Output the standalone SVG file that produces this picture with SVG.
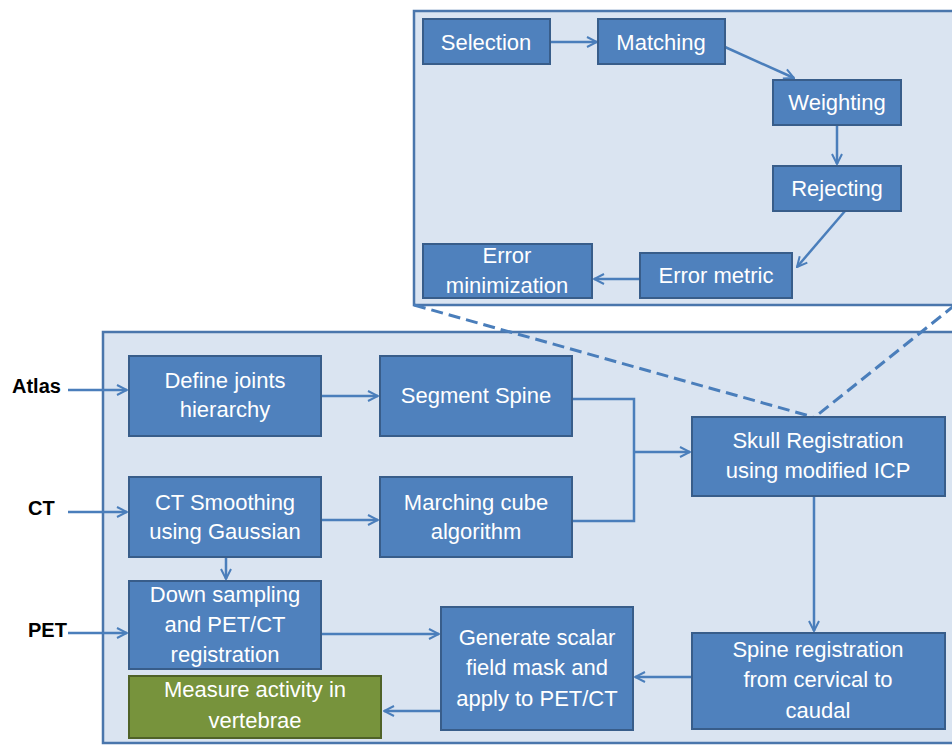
<svg xmlns="http://www.w3.org/2000/svg" width="952" height="745" viewBox="0 0 952 745">
<defs>
<marker id="arr" viewBox="0 0 12 12" refX="11" refY="6" markerWidth="12" markerHeight="12" markerUnits="userSpaceOnUse" orient="auto">
<path d="M1,1 L11,6 L1,11" fill="none" stroke="#4A7EBB" stroke-width="2"/>
</marker>
<style>
.panel{fill:#DAE4F1;stroke:#4A76AC;stroke-width:2.5}
.box{fill:#4F81BD;stroke:#385D8A;stroke-width:2}
.green{fill:#77933C;stroke:#4F6228;stroke-width:2}
.t{font-family:"Liberation Sans",Arial,sans-serif;font-size:22px;fill:#FFFFFF;text-anchor:middle}
.lbl{font-family:"Liberation Sans",Arial,sans-serif;font-size:20px;font-weight:bold;fill:#000000}
.c{fill:none;stroke:#4A7EBB;stroke-width:2.5}
.dash{fill:none;stroke:#4A7EBB;stroke-width:3;stroke-dasharray:12 6}
</style>
</defs>
<rect width="952" height="745" fill="#FFFFFF"/>
<g id="panel-top"><rect class="panel" x="414" y="11" width="545" height="294"/></g>
<g id="panel-bottom"><rect class="panel" x="103" y="332" width="856" height="411"/></g>

<g id="connectors">
<path class="dash" d="M414,305 L813,417"/>
<path class="dash" d="M955,305 L815,417"/>
<path class="c" d="M550,42 L597,42" marker-end="url(#arr)"/>
<path class="c" d="M725,47 L794,78" marker-end="url(#arr)"/>
<path class="c" d="M837,125 L837,164" marker-end="url(#arr)"/>
<path class="c" d="M845,211 L797,267" marker-end="url(#arr)"/>
<path class="c" d="M640,279 L594,279" marker-end="url(#arr)"/>
<path class="c" d="M68,390 L127,390" marker-end="url(#arr)"/>
<path class="c" d="M68,512 L127,512" marker-end="url(#arr)"/>
<path class="c" d="M68,633 L127,633" marker-end="url(#arr)"/>
<path class="c" d="M321,396 L378,396" marker-end="url(#arr)"/>
<path class="c" d="M321,520 L378,520" marker-end="url(#arr)"/>
<path class="c" d="M226,557 L226,579" marker-end="url(#arr)"/>
<path class="c" d="M572,399 L634,399 L634,521 L572,521"/>
<path class="c" d="M634,452 L690,452" marker-end="url(#arr)"/>
<path class="c" d="M814,496 L814,631" marker-end="url(#arr)"/>
<path class="c" d="M692,677 L635,677" marker-end="url(#arr)"/>
<path class="c" d="M321,634 L439,634" marker-end="url(#arr)"/>
<path class="c" d="M441,711 L384,711" marker-end="url(#arr)"/>
</g>

<g id="selection"><rect class="box" x="423" y="19" width="127" height="45"/><text class="t" x="486" y="50">Selection</text></g>
<g id="matching"><rect class="box" x="598" y="19" width="127" height="45"/><text class="t" x="661" y="50">Matching</text></g>
<g id="weighting"><rect class="box" x="773" y="80" width="128" height="45"/><text class="t" x="837" y="110">Weighting</text></g>
<g id="rejecting"><rect class="box" x="773" y="166" width="128" height="45"/><text class="t" x="837" y="196">Rejecting</text></g>
<g id="error-metric"><rect class="box" x="640" y="253" width="152" height="45"/><text class="t" x="716" y="283">Error metric</text></g>
<g id="error-min"><rect class="box" x="423" y="244" width="169" height="54"/><text class="t" x="507" y="263">Error</text><text class="t" x="507" y="293">minimization</text></g>

<g id="atlas"><text class="lbl" x="12" y="393">Atlas</text></g>
<g id="ct"><text class="lbl" x="28" y="515">CT</text></g>
<g id="pet"><text class="lbl" x="28" y="637">PET</text></g>

<g id="define-joints"><rect class="box" x="129" y="356" width="192" height="80"/><text class="t" x="225" y="388">Define  joints</text><text class="t" x="225" y="417">hierarchy</text></g>
<g id="segment-spine"><rect class="box" x="380" y="356" width="192" height="80"/><text class="t" x="476" y="403">Segment Spine</text></g>
<g id="ct-smoothing"><rect class="box" x="129" y="477" width="192" height="80"/><text class="t" x="225" y="510">CT Smoothing</text><text class="t" x="225" y="539">using Gaussian</text></g>
<g id="marching-cube"><rect class="box" x="380" y="477" width="192" height="80"/><text class="t" x="476" y="510">Marching cube</text><text class="t" x="476" y="539">algorithm</text></g>
<g id="down-sampling"><rect class="box" x="129" y="581" width="192" height="88"/><text class="t" x="225" y="602">Down sampling</text><text class="t" x="225" y="632">and PET/CT</text><text class="t" x="225" y="662">registration</text></g>
<g id="measure-activity"><rect class="green" x="129" y="676" width="252" height="62"/><text class="t" x="255" y="697">Measure activity in</text><text class="t" x="255" y="728">vertebrae</text></g>
<g id="generate-mask"><rect class="box" x="441" y="607" width="192" height="123"/><text class="t" x="537" y="645">Generate scalar</text><text class="t" x="537" y="675">field mask and</text><text class="t" x="537" y="706">apply to PET/CT</text></g>
<g id="skull-registration"><rect class="box" x="692" y="417" width="253" height="79"/><text class="t" x="818" y="448">Skull Registration</text><text class="t" x="818" y="478">using modified ICP</text></g>
<g id="spine-registration"><rect class="box" x="692" y="633" width="253" height="96"/><text class="t" x="818" y="657">Spine registration</text><text class="t" x="818" y="687">from cervical to</text><text class="t" x="818" y="718">caudal</text></g>
</svg>
